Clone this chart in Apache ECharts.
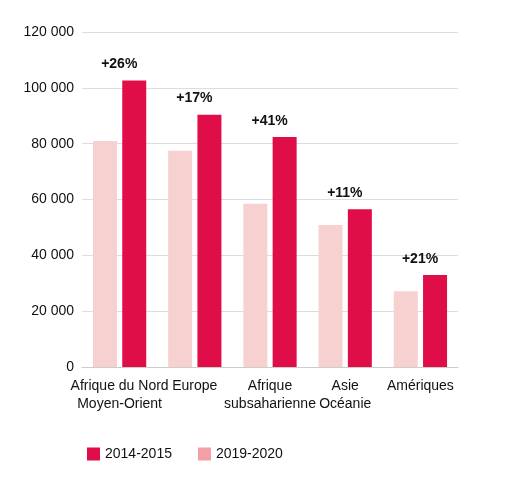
<!DOCTYPE html>
<html>
<head>
<meta charset="utf-8">
<script src="https://cdn.jsdelivr.net/npm/echarts@6/dist/echarts.min.js"></script>
<style>html,body{margin:0;background:#fff}#main{width:532px;height:500px}</style>
</head>
<body>
<div id="main"></div>
<script>
const CATEGORIES = ['Afrique du Nord\nMoyen-Orient', 'Europe', 'Afrique\nsubsaharienne', 'Asie\nOcéanie', 'Amériques'];
const VALUES_2019 = [81000, 77500, 58500, 50900, 27100];
const VALUES_2014 = [102600, 90400, 82400, 56500, 33000];
const GROWTH = ['+26%', '+17%', '+41%', '+11%', '+21%'];
const Y_TICKS = [0, 20000, 40000, 60000, 80000, 100000, 120000];

const FONT = 'Liberation Sans';

echarts.init(document.getElementById('main')).setOption({
    textStyle: {fontFamily: FONT},
    animation: false,
    grid: {left: 82, right: 74, top: 32, bottom: 133},
    legend: {
        data: [
            {name: '2014-2015', itemStyle: {color: '#e00e48'}},
            {name: '2019-2020', itemStyle: {color: '#f2a0a6'}}
        ],
        left: 82, top: 442,
        icon: 'rect', itemWidth: 13, itemHeight: 13, itemGap: 26,
        textStyle: {fontSize: 14, color: '#111', fontFamily: FONT}
    },
    xAxis: {
        type: 'category',
        data: CATEGORIES,
        axisTick: {show: false},
        axisLine: {lineStyle: {color: '#ccc'}},
        axisLabel: {color: '#111', fontSize: 14, lineHeight: 18, margin: 10, interval: 0}
    },
    yAxis: {
        type: 'value',
        min: Y_TICKS[0], max: Y_TICKS[Y_TICKS.length - 1], interval: 20000,
        axisLabel: {
            color: '#111', fontSize: 14, margin: 8,
            formatter: v => String(v).replace(/\B(?=(\d{3})+(?!\d))/g, ' ')
        },
        splitLine: {lineStyle: {color: '#ddd', width: 1}}
    },
    series: [
        {
            name: '2019-2020', type: 'bar', data: VALUES_2019,
            barWidth: 24, barGap: '22%',
            itemStyle: {color: '#f7d0d0'}
        },
        {
            name: '2014-2015', type: 'bar', data: VALUES_2014,
            barWidth: 24,
            itemStyle: {color: '#e00e48'},
            label: {
                show: true, position: 'top', distance: 9, offset: [-15, 0],
                formatter: p => GROWTH[p.dataIndex],
                color: '#111', fontSize: 14, fontWeight: 'bold'
            }
        }
    ]
});
</script>
</body>
</html>
